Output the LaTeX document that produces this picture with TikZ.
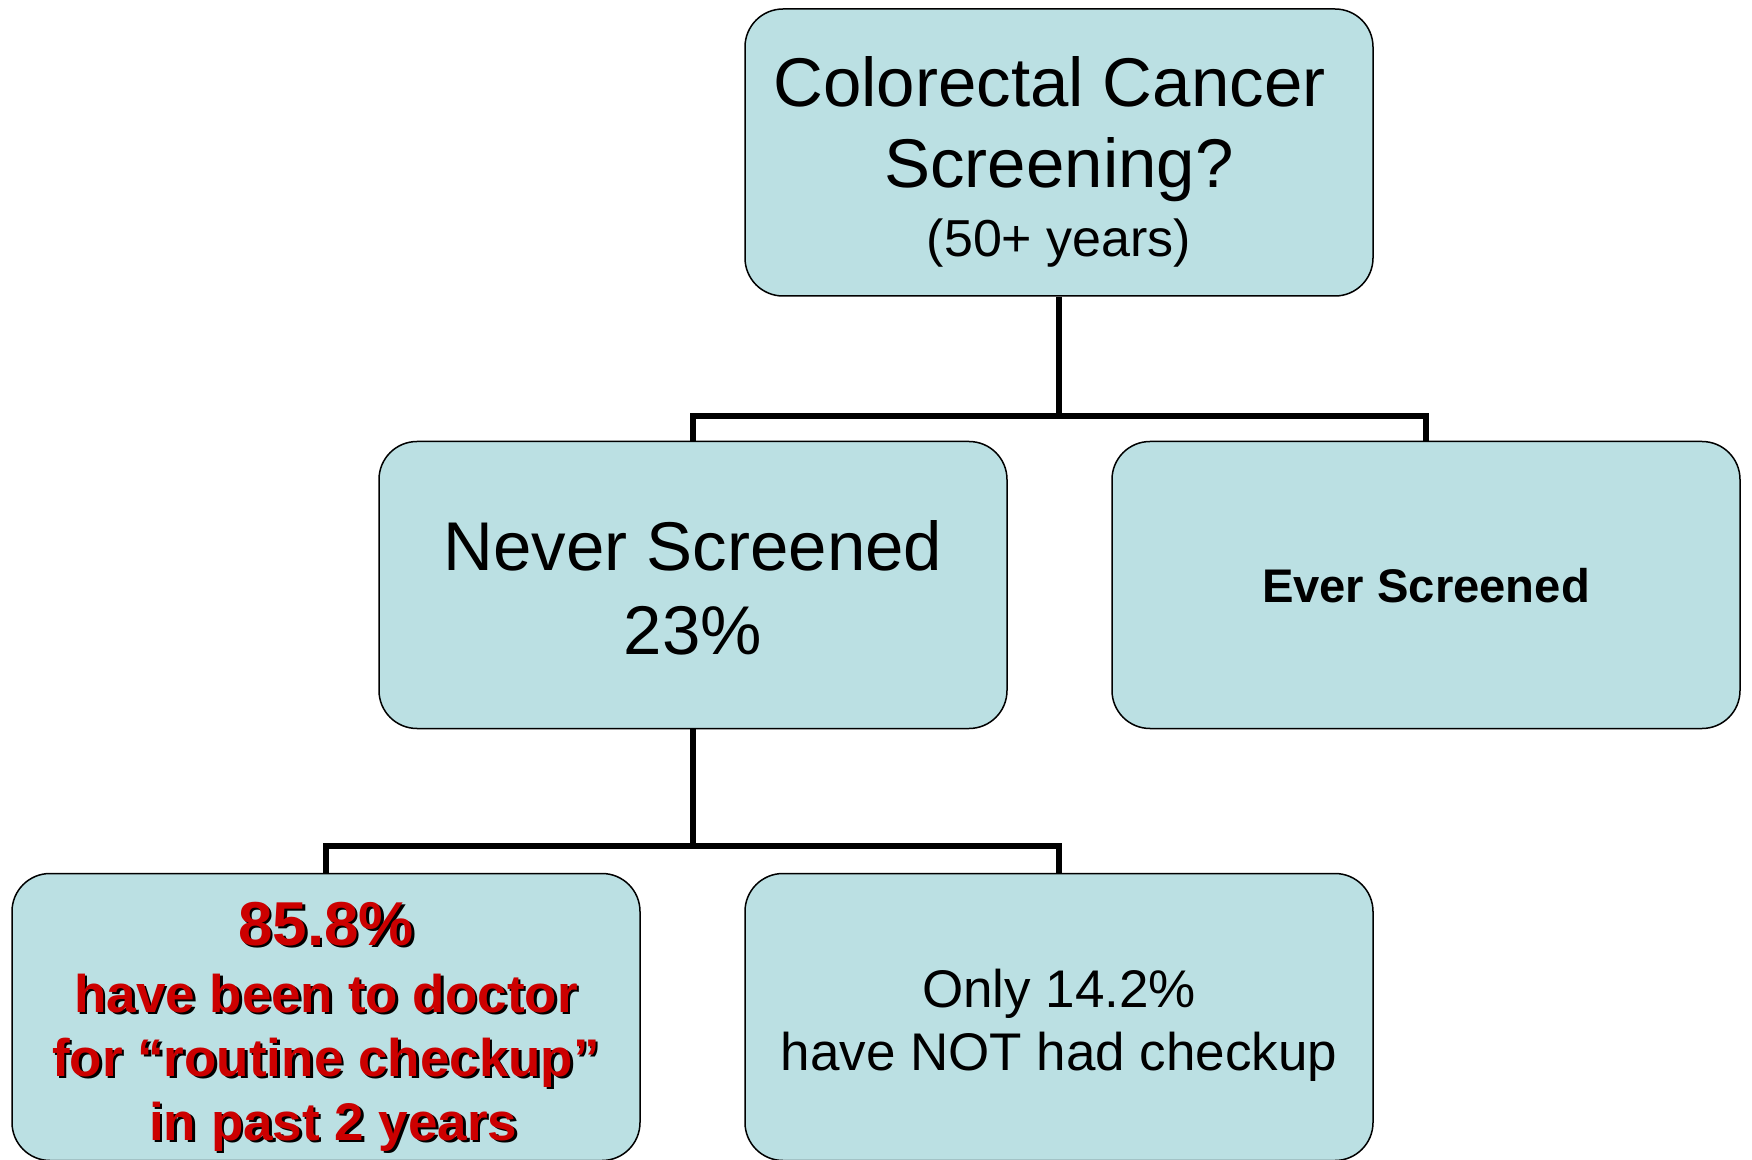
\documentclass[tikz,border=0pt]{standalone}
\usepackage{fontspec}
\setmainfont{Liberation Sans}
\definecolor{boxfill}{HTML}{BBE0E3}
\definecolor{redtxt}{HTML}{CC0000}
\newcommand\shtxt[1]{\rlap{\kern1.3pt\raisebox{-1.3pt}{\textcolor{black}{#1}}}\textcolor{redtxt}{#1}}
\tikzset{
  box/.style={draw=black, line width=0.75pt, fill=boxfill, rounded corners=19pt,
    minimum width=314pt, minimum height=143.5pt, inner sep=0pt, align=center},
  conn/.style={draw=black, line width=3pt, line join=miter}
}
\begin{document}
\begin{tikzpicture}[x=0.5pt, y=-0.5pt]
\useasboundingbox (0,0) rectangle (1752,1160);
\node[box, font=\fontsize{34.5pt}{40.5pt}\selectfont] (top) at (1059,152.5)
  {\rule{0pt}{40pt}Colorectal Cancer\kern0.278em\\Screening?\\[-6pt]{\fontsize{26pt}{30pt}\selectfont (50+ years)}\rule[-10.5pt]{0pt}{0pt}};
\node[box, font=\fontsize{34.5pt}{42pt}\selectfont] (never) at (693,585)
  {\rule{0pt}{37pt}Never Screened\\23\%\rule[-10pt]{0pt}{0pt}};
\node[box, font=\bfseries\fontsize{23.6pt}{28pt}\selectfont] (ever) at (1426,585)
  {\rule[-10pt]{0pt}{38pt}Ever Screened};
\node[box, font=\bfseries\fontsize{26.5pt}{32pt}\selectfont] (bl) at (326,1017)
  {\rule{0pt}{35pt}{\fontsize{31pt}{32pt}\selectfont\shtxt{85.8\%}}\\[1.5pt]
   \shtxt{have been to doctor}\\
   \shtxt{for “routine checkup”}\\
   \kern0.278em\shtxt{in past 2 years}\rule[-9.5pt]{0pt}{0pt}};
\node[box, font=\fontsize{26.5pt}{31.5pt}\selectfont] (bm) at (1059,1017)
  {\rule{0pt}{30pt}Only 14.2\%\\have NOT had checkup\rule[-8.5pt]{0pt}{0pt}};
\coordinate (j1) at (1059,416);
\coordinate (j2) at (693,846);
\draw[conn] (top.south) -- (j1);
\draw[conn] (never.north) |- (j1) -| (ever.north);
\draw[conn] (never.south) -- (j2);
\draw[conn] (bl.north) |- (j2) -| (bm.north);
\end{tikzpicture}
\end{document}
